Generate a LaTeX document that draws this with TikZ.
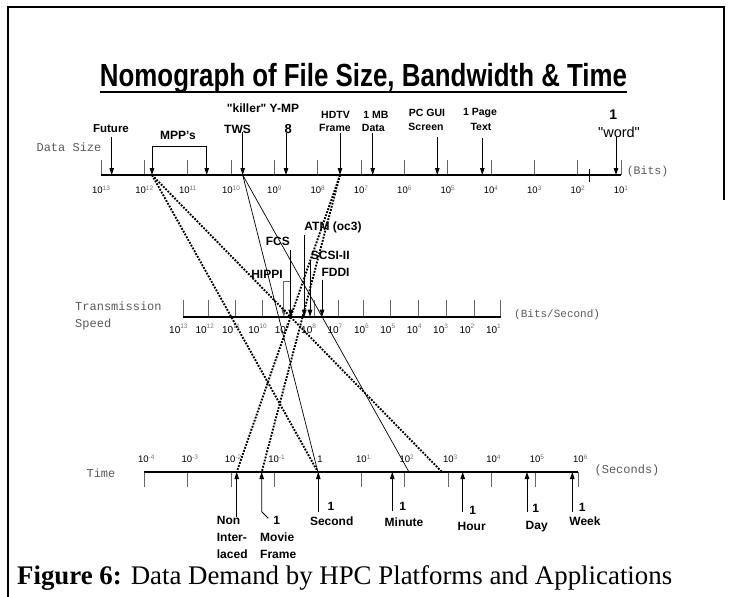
\documentclass[tikz,border=0pt]{standalone}
\usepackage{fontspec}
\setmainfont{Liberation Serif}
\setsansfont{Liberation Sans}
\setmonofont{Liberation Mono}
\usetikzlibrary{arrows.meta}
\newcommand{\fs}[1]{\fontsize{#1}{#1}\selectfont}
% decade labels: "10" with a small grey exponent
\newcommand{\dec}[1]{{\fs{9.5}10}\raisebox{2.5pt}{\fs{6.5}\color{black!55}#1}}
\newcommand{\tdec}[1]{{\fs{10}10}\raisebox{5pt}{\fs{6.5}\color{black!55}#1}}
\newcommand{\sq}{\textquotedbl}
\begin{document}
\begin{tikzpicture}[x=1pt,y=-1pt,
  lbl/.style={font=\sffamily\bfseries\fs{12},inner sep=0pt},
  slbl/.style={font=\sffamily\bfseries\fs{10.5},inner sep=0pt},
  axname/.style={font=\ttfamily\fs{12},text=black!65,inner sep=0pt},
  declbl/.style={font=\sffamily,inner sep=0pt},
  axisline/.style={line width=1.6pt},
  tickmark/.style={line width=0.8pt,draw=black!60},
  ptr/.style={line width=0.8pt,-{Triangle[length=7pt,width=4.5pt]}},
  dotl/.style={line width=1.9pt,dash pattern=on 1.8pt off 1.4pt},
  thinl/.style={line width=0.7pt}
]
\useasboundingbox (0,0) rectangle (731,597);

% page frame
\draw[line width=2pt] (8,597) -- (8,7) -- (724,7) -- (724,200);

% title
\node[inner sep=0pt,anchor=base] (title) at (363.5,86)
  {\resizebox{527pt}{\height}{\sffamily\bfseries\fs{32}Nomograph of File Size, Bandwidth \& Time}};
\draw[line width=2pt] (100,92) -- (627,92);

% ---------------- data size scale ----------------
\foreach \e [count=\k from 0] in {13,12,...,1} {
  \coordinate (d\e) at ({101+43.33*\k},175);
  \draw[tickmark] (d\e) -- ++(0,-15);
  \node[declbl] (dl\e) at ({101+43.33*\k},190) {\dec{\e}};
}
\draw[axisline] (d13) -- (d1);
\draw[line width=1pt] (589,169) -- (589,182);
\node[axname] (dsname) at (69,147) {Data Size};
\node[axname,font=\ttfamily\fs{11.5}] (bits) at (647.5,172) {(Bits)};

\coordinate (futT) at (111.7,137);  \coordinate (futH) at (111.7,175);
\coordinate (mppL) at (152,146.7);  \coordinate (mppLH) at (152,175);
\coordinate (mppR) at (206.7,146.7);\coordinate (mppRH) at (206.7,175);
\coordinate (twsT) at (242.7,131.7);\coordinate (twsH) at (242.7,175);
\coordinate (ympT) at (286,133.3);  \coordinate (ympH) at (286,175);
\coordinate (hdT) at (340,133.3);   \coordinate (hdH) at (340,175);
\coordinate (mbT) at (372.7,133.3); \coordinate (mbH) at (372.7,175);
\coordinate (guiT) at (437.3,137.3);\coordinate (guiH) at (437.3,175);
\coordinate (pgT) at (482.3,138.3); \coordinate (pgH) at (482.3,175);
\coordinate (wdT) at (616,137.3);   \coordinate (wdH) at (616,175);

\draw[ptr] (futT) -- (futH);
\draw[thinl] (mppL) -- (mppR);
\draw[ptr] (mppL) -- (mppLH);
\draw[ptr] (mppR) -- (mppRH);
\draw[ptr] (twsT) -- (twsH);
\draw[ptr] (ympT) -- (ympH);
\draw[ptr] (hdT) -- (hdH);
\draw[ptr] (mbT) -- (mbH);
\draw[ptr] (guiT) -- (guiH);
\draw[ptr] (pgT) -- (pgH);
\draw[ptr] (wdT) -- (wdH);

\node[lbl,font=\sffamily\bfseries\fs{11.5}] (fut) at (111,129) {Future};
\node[lbl] (mpp) at (178,135) {MPP's};
\node[lbl] (killer) at (263,108) {\sq killer\sq{} Y-MP};
\node[lbl] (tws) at (237.5,129.3) {TWS};
\node[lbl,font=\sffamily\bfseries\fs{13}] (ymp8) at (288.3,129.3) {8};
\node[slbl] (hdtv) at (335.5,115) {HDTV};
\node[slbl] (hdfr) at (335,128.3) {Frame};
\node[slbl] (mb) at (376,115) {1 MB};
\node[slbl] (mbd) at (373.3,128.3) {Data};
\node[slbl] (gui) at (427,113.3) {PC GUI};
\node[slbl] (guis) at (426,127.3) {Screen};
\node[slbl] (pg) at (480,113.3) {1 Page};
\node[slbl] (pgt) at (481,127.3) {Text};
\node[lbl,font=\sffamily\bfseries\fs{14}] (wd1) at (613.3,115) {1};
\node[lbl,font=\sffamily\fs{14.5}] (wd) at (619,132.3) {\sq word\sq};

% ---------------- transmission speed scale ----------------
\foreach \e/\x in {13/183.3,12/208,11/235,10/262.3,8/314.3,7/338.3,6/363.3,5/390.5,4/418,3/446.5,2/474,1/500.5} {
  \coordinate (t\e) at (\x,316.7);
  \draw[tickmark] (t\e) -- ++(0,-16.7);
}
\coordinate (t9) at (283.8,316.7);
\foreach \e [count=\k from 0] in {13,12,...,1} {
  \node[declbl,anchor=west] (tl\e) at ({169+26.4*\k},329) {\tdec{\e}};
}
\draw[axisline] (t13) -- (t1);
\node[axname,anchor=west] (tsname) at (75,306.7) {Transmission};
\node[axname,anchor=west] (tsname2) at (75,324) {Speed};
\node[axname,anchor=west,font=\ttfamily\fs{11}] (bps) at (514,315) {(Bits/Second)};

\coordinate (hipL) at (283.8,281);  \coordinate (hipR) at (290.7,281);
\coordinate (fcsT) at (290.7,250);  \coordinate (fcsH) at (290.7,316.7);
\coordinate (atmT) at (304.3,235);  \coordinate (atmH) at (304.3,316.7);
\coordinate (scsT) at (310,260);    \coordinate (scsH) at (310,316.7);
\coordinate (fddT) at (322,280);    \coordinate (fddH) at (322,316.7);

\draw[tickmark] (hipR) -- (hipL);
\draw[ptr,draw=black!60] (hipL) -- (t9);
\draw[ptr] (fcsT) -- (fcsH);
\draw[ptr] (atmT) -- (atmH);
\draw[ptr] (scsT) -- (scsH);
\draw[ptr] (fddT) -- (fddH);

\node[lbl] (atm) at (333,227.3) {ATM (oc3)};
\node[lbl] (fcs) at (277.8,241.7) {FCS};
\node[lbl] (scsi) at (330.3,255) {SCSI-II};
\node[lbl] (hippi) at (267,274) {HIPPI};
\node[lbl] (fddi) at (335.5,272.7) {FDDI};

% ---------------- time scale ----------------
\foreach \k in {0,...,10} {
  \coordinate (s\k) at ({144.3+43.4*\k},472);
  \draw[tickmark] (s\k) -- ++(0,15);
}
\draw[axisline] (s0) -- (s10);
\foreach \k/\t in {0/\dec{-4},1/\dec{-3},2/\dec{-2},3/\dec{-1},4/{\fs{9.5}1},5/\dec{1},6/\dec{2},7/\dec{3},8/\dec{4},9/\dec{5},10/\dec{6}} {
  \node[declbl] (sl\k) at ({146.3+43.4*\k},459) {\t};
}
\node[axname] (tmname) at (101,473) {Time};
\node[axname] (secs) at (627,470) {(Seconds)};

\coordinate (niT) at (236.7,516.7); \coordinate (niH) at (236.7,472);
\coordinate (mvL) at (268.3,518.3); \coordinate (mvT) at (261.7,511.7); \coordinate (mvH) at (261.7,472);
\coordinate (secT) at (318.3,511.7);\coordinate (secH) at (318.3,472);
\coordinate (minT) at (392.3,510.7);\coordinate (minH) at (392.3,472);
\coordinate (hrT) at (462.7,511.7); \coordinate (hrH) at (462.7,472);
\coordinate (dayT) at (527,511.7);  \coordinate (dayH) at (527,472);
\coordinate (wkT) at (572.3,511.7); \coordinate (wkH) at (572.3,472);

\draw[ptr] (niT) -- (niH);
\draw[ptr] (mvL) -- (mvT) -- (mvH);
\draw[ptr] (secT) -- (secH);
\draw[ptr] (minT) -- (minH);
\draw[ptr] (hrT) -- (hrH);
\draw[ptr] (dayT) -- (dayH);
\draw[ptr] (wkT) -- (wkH);

\node[lbl,anchor=west] (ni1) at (216.7,520) {Non};
\node[lbl,anchor=west] (ni2) at (216.7,537.7) {Inter-};
\node[lbl,anchor=west] (ni3) at (216.7,554.3) {laced};
\node[lbl] (mv1) at (276.7,520) {1};
\node[lbl,anchor=west] (mv2) at (260,537.7) {Movie};
\node[lbl,anchor=west] (mv3) at (260,554.3) {Frame};
\node[lbl] (sec1) at (331,506.7) {1};
\node[lbl] (sec2) at (331.7,521.7) {Second};
\node[lbl] (min1) at (402.7,506.7) {1};
\node[lbl] (min2) at (404,522.7) {Minute};
\node[lbl] (hr1) at (472.7,510) {1};
\node[lbl] (hr2) at (471.7,526.7) {Hour};
\node[lbl] (day1) at (535.7,508) {1};
\node[lbl] (day2) at (536.7,526.7) {Day};
\node[lbl] (wk1) at (582.3,507) {1};
\node[lbl] (wk2) at (585,521.7) {Week};

% ---------------- solution lines across the three scales ----------------
\coordinate (kEnd) at (442,472);
\coordinate (mEnd) at (409,472);
\draw[dotl] (mppLH) -- (s4);
\draw[dotl] (mppLH) -- (kEnd);
\draw[dotl] (hdH) -- (niH);
\draw[dotl] (hdH) -- (mvH);
\draw[thinl] (twsH) -- (s4);
\draw[thinl] (twsH) -- (mEnd);

% caption
\node[inner sep=0pt,anchor=west] (cap) at (17,578)
  {\resizebox{655pt}{!}{\rmfamily\fs{27}\textbf{Figure 6:} Data Demand by HPC Platforms and Applications}};
\end{tikzpicture}
\end{document}
